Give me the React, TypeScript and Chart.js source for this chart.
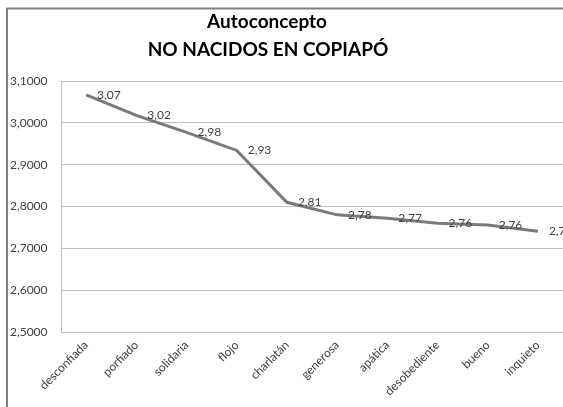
import React, { useEffect, useRef } from "react";
import { Chart, registerables } from "chart.js";

Chart.register(...registerables);

const categories = ["desconfiada", "porfiado", "solidaria", "flojo", "charlatán", "generosa", "apática", "desobediente", "bueno", "inquieto"];
const values = [3.067, 3.018, 2.977, 2.934, 2.81, 2.78, 2.772, 2.76, 2.756, 2.741];
const yTicks = [2.5, 2.6, 2.7, 2.8, 2.9, 3.0, 3.1];
const titleLines = ["Autoconcepto", "NO NACIDOS EN COPIAPÓ"];

const FONT = "Lato, 'Open Sans', sans-serif";

const framePlugin = {
  id: "frameAndTitle",
  afterDraw(chart: any) {
    const ctx = chart.ctx;
    ctx.save();
    // outer frame
    ctx.strokeStyle = "#808080";
    ctx.lineWidth = 2;
    ctx.beginPath();
    ctx.moveTo(7, 407);
    ctx.lineTo(7, 8.5);
    ctx.lineTo(563, 8.5);
    ctx.stroke();
    // title
    ctx.fillStyle = "#000000";
    ctx.textAlign = "center";
    ctx.textBaseline = "alphabetic";
    ctx.font = `bold 19px ${FONT}`;
    ctx.fillText(titleLines[0], 267, 28);
    ctx.fillText(titleLines[1], 268, 56);
    // data labels
    const meta = chart.getDatasetMeta(0);
    ctx.font = `12px ${FONT}`;
    ctx.fillStyle = "#404040";
    ctx.textAlign = "left";
    ctx.textBaseline = "middle";
    meta.data.forEach((pt: any, i: number) => {
      const txt = values[i].toFixed(2).replace(".", ",");
      ctx.fillText(txt, pt.x + 11, pt.y);
    });
    ctx.restore();
  },
};

export default function App() {
  const ref = useRef<HTMLCanvasElement>(null);
  useEffect(() => {
    if (!ref.current) return;
    const chart = new Chart(ref.current, {
      type: "line",
      data: {
        labels: categories,
        datasets: [
          {
            data: values,
            borderColor: "#7a7a7a",
            borderWidth: 3,
            pointRadius: 0,
            tension: 0,
            fill: false,
          },
        ],
      },
      options: {
        responsive: false,
        animation: false,
        layout: { padding: { left: 10, top: 81, right: 0, bottom: 0 } },
        plugins: {
          legend: { display: false },
          title: { display: false },
          tooltip: { enabled: false },
        },
        scales: {
          x: {
            type: "category",
            offset: true,
            grid: { display: false, drawTicks: false },
            border: { display: true, color: "#bfbfbf", width: 1 },
            ticks: {
              minRotation: 45,
              maxRotation: 45,
              autoSkip: false,
              padding: 6,
              color: "#404040",
              font: { family: FONT, size: 12 },
            },
            afterFit(scale: any) {
              scale.height = 75;
            },
          },
          y: {
            min: 2.5,
            max: 3.1,
            afterBuildTicks(scale: any) {
              scale.ticks = yTicks.map((v) => ({ value: v }));
            },
            grid: { color: "#bfbfbf", lineWidth: 1, drawTicks: false },
            border: { display: true, color: "#bfbfbf", width: 1 },
            ticks: {
              crossAlign: "far",
              color: "#404040",
              font: { family: FONT, size: 12 },
              callback: (v: any) => Number(v).toFixed(4).replace(".", ","),
            },
            afterFit(scale: any) {
              scale.width = 51;
            },
          },
        },
      },
      plugins: [framePlugin],
    });
    return () => chart.destroy();
  }, []);
  return (
    <div style={{ position: "absolute", left: 0, top: 0, width: 563, height: 407, background: "#fff" }}>
      <canvas ref={ref} width={563} height={407} style={{ display: "block" }} />
    </div>
  );
}
